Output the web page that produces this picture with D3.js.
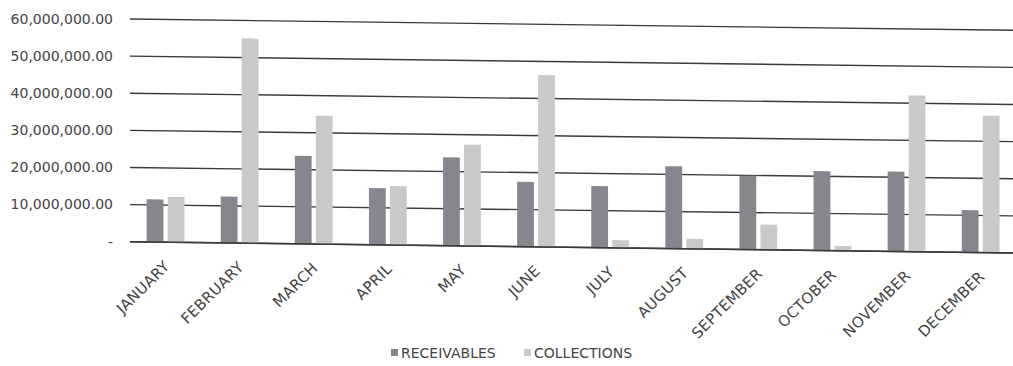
<!DOCTYPE html>
<html>
<head>
<meta charset="utf-8">
<script src="https://cdn.jsdelivr.net/npm/d3@7"></script>
<style>
  html, body { margin: 0; padding: 0; background: #fff; }
  svg { display: block; }
  text { font-family: "DejaVu Sans", sans-serif; fill: #444; }
</style>
</head>
<body>
<svg id="chart" width="1013" height="366"></svg>
<script>
const categories = ["JANUARY","FEBRUARY","MARCH","APRIL","MAY","JUNE","JULY","AUGUST","SEPTEMBER","OCTOBER","NOVEMBER","DECEMBER"];
const seriesNames = ["RECEIVABLES","COLLECTIONS"];
const receivables = [11500000, 12500000, 23700000, 15300000, 23800000, 17500000, 16600000, 22200000, 19900000, 21400000, 21500000, 11400000];
const collections = [12200000, 55200000, 34600000, 15900000, 27300000, 46300000, 2100000, 2700000, 6800000, 1300000, 42100000, 36900000];
const yTicks = [0, 10000000, 20000000, 30000000, 40000000, 50000000, 60000000];
const colors = ["#86868e", "#c9c9c9"];

const svg = d3.select("#chart");
const plotLeft = 128.5, plotRight = 1017.7, plotTop = 19, plotBottom = 241.7;
const skew = 0.0128;

const x0 = d3.scaleBand().domain(categories).range([plotLeft, plotRight]).paddingInner(0.49).paddingOuter(0.245);
const x1 = d3.scaleBand().domain(seriesNames).range([0, x0.bandwidth()]).paddingInner(0.2);
const y = d3.scaleLinear().domain([0, 60000000]).range([plotBottom, plotTop]);

// Y axis labels (unskewed)
const fmt = d3.format(",.2f");
svg.append("g").selectAll("text").data(yTicks).join("text")
  .attr("x", 113).attr("y", d => y(d)).attr("dy", "0.35em")
  .attr("text-anchor", "end").style("font-size", "14px")
  .text(d => d === 0 ? "-" : fmt(d));

// Plot group, slightly skewed as in the scanned reference
const g = svg.append("g").attr("transform", `matrix(1,${skew},0,1,0,${-skew*130})`);

g.append("g").selectAll("line").data(yTicks).join("line")
  .attr("x1", 130).attr("x2", 1020)
  .attr("y1", d => y(d)).attr("y2", d => y(d))
  .attr("stroke", "#3a3a3a").attr("stroke-width", 1.4);

const data = categories.map((c, i) => ({cat: c, vals: [receivables[i], collections[i]]}));
const groups = g.append("g").selectAll("g").data(data).join("g")
  .attr("transform", d => `translate(${x0(d.cat)},0)`);
groups.selectAll("rect").data(d => d.vals.map((v, j) => ({name: seriesNames[j], v, j}))).join("rect")
  .attr("x", d => x1(d.name)).attr("width", x1.bandwidth())
  .attr("y", d => y(d.v)).attr("height", d => y(0) - y(d.v))
  .attr("fill", d => colors[d.j]);

// baseline drawn on top
g.append("line").attr("x1", 130).attr("x2", 1020).attr("y1", y(0)).attr("y2", y(0))
  .attr("stroke", "#3a3a3a").attr("stroke-width", 1.6);

// X labels
g.append("g").selectAll("text").data(categories).join("text")
  .attr("transform", d => `translate(${x0(d) + x0.bandwidth()/2 + 5},${y(0) + 25}) rotate(-45)`)
  .attr("text-anchor", "end").style("font-size", "15px").style("letter-spacing", "0.3px")
  .text(d => d);

// Legend
const legend = svg.append("g");
const legendX = [391, 524];
seriesNames.forEach((n, i) => {
  legend.append("rect").attr("x", legendX[i]).attr("y", 349).attr("width", 7).attr("height", 7).attr("fill", colors[i]);
  legend.append("text").attr("x", legendX[i] + 10).attr("y", 358).style("font-size", "14px").text(n);
});
</script>
</body>
</html>
